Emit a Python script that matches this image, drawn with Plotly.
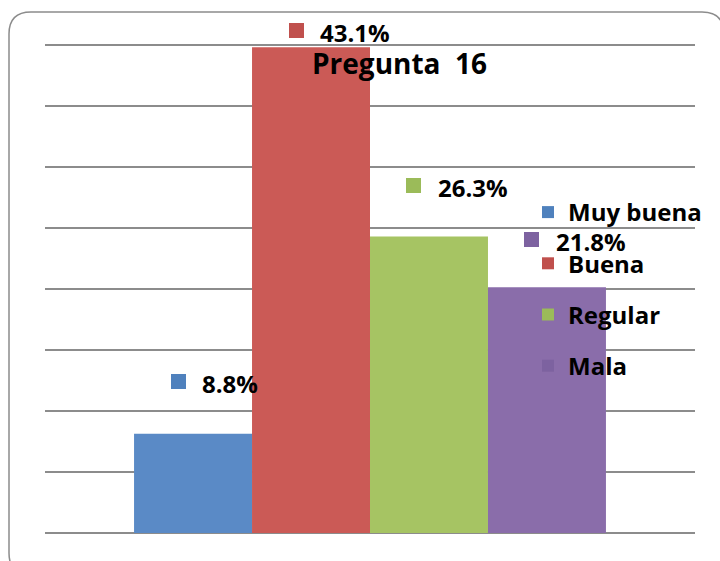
import plotly.graph_objects as go

# ---- data ----
categories = ["Muy buena", "Buena", "Regular", "Mala"]
values = [8.8, 43.1, 26.3, 21.8]
value_labels = ["8.8%", "43.1%", "26.3%", "21.8%"]
title_text = "Pregunta\u00a0 16"

# ---- styles ----
bar_colors = ["#5A8AC6", "#CB5A56", "#A6C463", "#8A6DAA"]
key_colors = ["#4F81BD", "#C0504D", "#9BBB59", "#7D62A0"]
label_lift_px = [50, 15, 49, 46]   # label offset above bar tops (px)
FONT = "Open Sans"
W, H = 720, 561
PAD = 2                              # px of axis range beyond grid ends
ML, MR, MT, MB = 45, 25, 45 - PAD, 28 - PAD
PW, PH = W - ML - MR, H - MT - MB
YMAX = 43.3
BARGAP = 0.274
unit = (PH - 2 * PAD) / YMAX
EPS = PAD / unit


def X(px):
    return (px - ML) / PW


def Y(py):
    return (H - MB - py) / PH


fig = go.Figure()
for cat, val, col, kc in zip(categories, values, bar_colors, key_colors):
    fig.add_trace(go.Bar(
        x=[0], y=[val], name=cat, offsetgroup=cat, showlegend=False,
        marker=dict(color=col, line=dict(width=0)), hoverinfo="skip",
    ))
    fig.add_trace(go.Bar(
        x=[0], y=[None], name=cat, offsetgroup=cat, legendgroup=cat,
        marker=dict(color=kc, line=dict(width=0)), hoverinfo="skip",
    ))

n = len(categories)
w = (1 - BARGAP) / n
centers = [-0.5 + BARGAP / 2 + (i + 0.5) * w for i in range(n)]

annotations = []
for i, (val, lab, kc) in enumerate(zip(values, value_labels, key_colors)):
    lift = label_lift_px[i]
    annotations.append(dict(
        x=centers[i], y=val, xref="x", yref="y",
        text=lab, showarrow=False, xanchor="left", yanchor="middle",
        xshift=7, yshift=lift,
        font=dict(family=FONT, size=24, color="black", weight="bold"),
    ))
    annotations.append(dict(
        x=centers[i], y=val, xref="x", yref="y",
        text=" ", showarrow=False, xanchor="center", yanchor="middle",
        xshift=-15, yshift=lift + 2, width=15, height=15,
        bgcolor=kc, borderpad=0, borderwidth=0,
        font=dict(size=2),
    ))

annotations.append(dict(
    x=X(400), y=Y(63), xref="paper", yref="paper",
    text=title_text, showarrow=False, xanchor="center", yanchor="middle",
    font=dict(family=FONT, size=28, color="black", weight="bold"),
))

# rounded chart border
L, T, R, B, r = 9, 12, 724, 575, 22
path = (
    f"M {X(L + r)},{Y(T)} L {X(R - r)},{Y(T)} Q {X(R)},{Y(T)} {X(R)},{Y(T + r)} "
    f"L {X(R)},{Y(B - r)} Q {X(R)},{Y(B)} {X(R - r)},{Y(B)} "
    f"L {X(L + r)},{Y(B)} Q {X(L)},{Y(B)} {X(L)},{Y(B - r)} "
    f"L {X(L)},{Y(T + r)} Q {X(L)},{Y(T)} {X(L + r)},{Y(T)} Z"
)
shapes = [dict(type="path", xref="paper", yref="paper", path=path,
               line=dict(color="#8c8c8c", width=1.5), layer="below")]

fig.update_layout(
    width=W, height=H,
    margin=dict(l=ML, r=MR, t=MT, b=MB, autoexpand=False),
    paper_bgcolor="white", plot_bgcolor="white",
    barmode="group", bargap=BARGAP, bargroupgap=0,
    xaxis=dict(range=[-0.5, 0.5], visible=False, fixedrange=True),
    yaxis=dict(range=[-EPS, YMAX + EPS], tickvals=[YMAX * k / 8 for k in range(9)],
               showticklabels=False, showgrid=True, gridcolor="#8c8c8c", gridwidth=2,
               zeroline=False, showline=False, ticks=""),
    showlegend=True,
    legend=dict(x=X(528), y=Y(190), xanchor="left", yanchor="top",
                bgcolor="rgba(0,0,0,0)", tracegroupgap=17, traceorder="grouped",
                font=dict(family=FONT, size=24, color="black", weight="bold"),
                itemclick=False, itemdoubleclick=False),
    annotations=annotations,
    shapes=shapes,
)

fig.write_html(
    "out.html",
    config={"displayModeBar": False},
    post_script="document.body.style.margin='0';document.body.style.overflow='hidden';",
)
